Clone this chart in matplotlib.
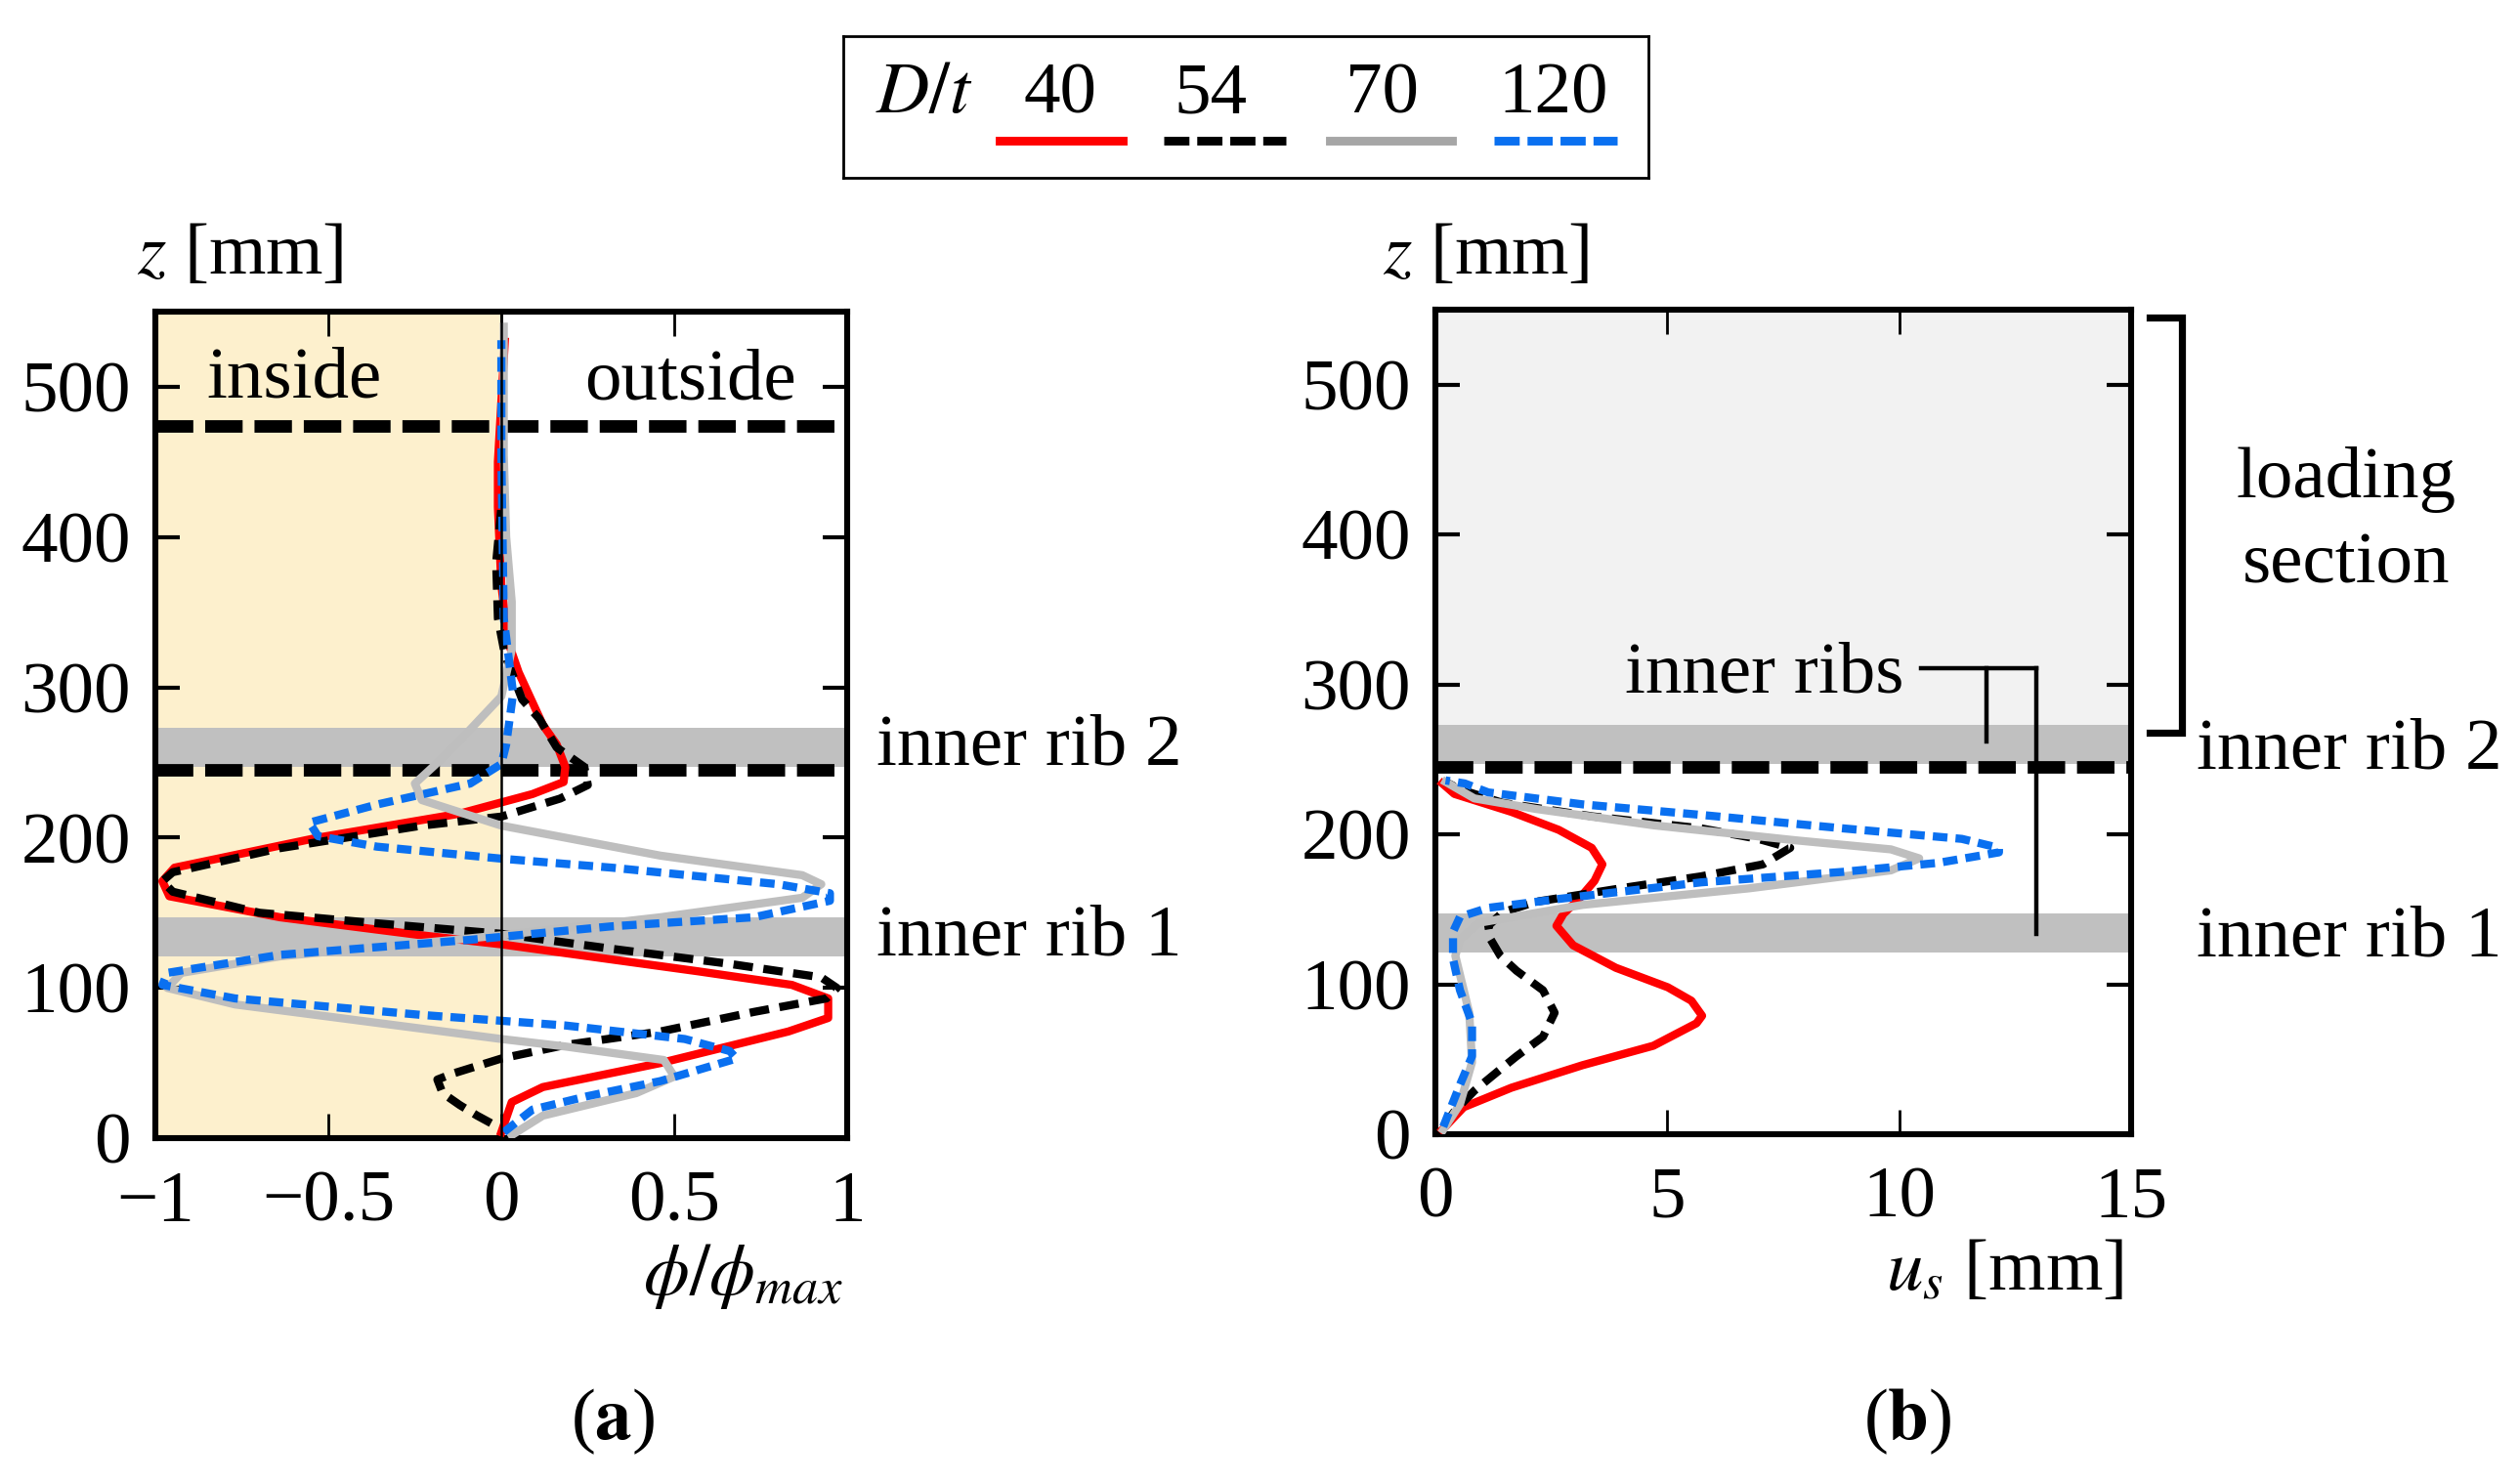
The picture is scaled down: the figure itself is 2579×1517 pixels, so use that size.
import matplotlib
matplotlib.use("Agg")
import matplotlib.pyplot as plt
from matplotlib.lines import Line2D

plt.rcParams.update({
    "font.family": "serif",
    "font.serif": ["Liberation Serif", "DejaVu Serif"],
    "mathtext.fontset": "stix",
    "font.size": 27,
    "axes.linewidth": 2.2,
})

# ---- data ----
series = ["40", "54", "70", "120"]

# panel (a): normalised rotation phi/phi_max vs height z [mm]
a40_phi = [0.0, 0.03, 0.12, 0.46, 0.83, 0.945, 0.945, 0.84, 0.57, 0.0, -0.23, -0.64, -0.96, -0.98,
           -0.945, -0.53, -0.12, 0.09, 0.18, 0.185, 0.16, 0.12, 0.05, 0.02, 0.0, -0.01, -0.01, 0.0, 0.01]
a40_z = [4, 24, 34, 50, 71, 80, 93, 102, 111, 129, 135, 147, 161, 171,
         180, 200, 216, 229, 237, 247, 262, 275, 310, 330, 368, 420, 450, 490, 530]
a54_phi = [-0.03, -0.07, -0.12, -0.17, -0.185, -0.14, 0.0, 0.185, 0.46, 0.73, 0.94, 0.97, 0.925, 0.66,
           0.32, 0.0, -0.36, -0.70, -0.95, -0.98, -0.95, -0.64, -0.23, 0.0, 0.17, 0.25, 0.24, 0.16,
           0.11, 0.06, 0.01, -0.01, -0.015, 0.0]
a54_z = [10, 15, 22, 30, 39, 43, 53, 62, 71, 84, 93, 100, 107, 116,
         126, 136, 143, 150, 164, 171, 177, 193, 208, 214, 226, 235, 247, 260,
         279, 292, 322, 346, 383, 420]
a70_phi = [0.03, 0.12, 0.39, 0.50, 0.47, 0.185, 0.0, -0.77, -0.966, -0.925, -0.64, 0.0, 0.46, 0.87,
           0.925, 0.87, 0.46, 0.0, -0.23, -0.25, -0.17, -0.09, 0.0, 0.03, 0.03, 0.014, 0.007, 0.007]
a70_z = [2, 15, 30, 41, 52, 61, 66, 89, 100, 110, 121, 135, 147, 160,
         169, 175, 188, 208, 225, 236, 253, 272, 294, 325, 357, 400, 455, 540]
a120_phi = [0.007, 0.09, 0.25, 0.46, 0.68, 0.66, 0.53, 0.185, -0.23, -0.77, -0.98, -0.966, -0.64, -0.09,
            0.32, 0.73, 0.95, 0.95, 0.80, 0.32, 0.0, -0.36, -0.53, -0.555, -0.36, -0.09, 0.0, 0.014,
            0.034, 0.007, 0.0, 0.0]
a120_z = [4, 19, 28, 38, 53, 58, 66, 75, 82, 93, 102, 110, 122, 132,
          141, 147, 158, 163, 169, 180, 186, 194, 201, 210, 222, 236, 249, 262,
          296, 346, 455, 531]

# panel (b): slip u_s [mm] vs height z [mm]
b40_us = [0.15, 0.61, 1.64, 3.17, 4.7, 5.63, 5.75, 5.52, 5.01, 3.89, 2.97, 2.61, 2.76, 3.07,
          3.43, 3.6, 3.37, 2.66, 1.64, 0.82, 0.41, 0.15]
b40_z = [3, 18, 31, 46, 59, 74, 79, 89, 98, 111, 126, 139, 147, 156,
         169, 180, 191, 203, 215, 223, 227, 234]
b54_us = [0.17, 0.43, 0.84, 1.35, 1.75, 2.32, 2.57, 2.32, 1.75, 1.40, 1.19, 1.14, 1.45, 2.16,
          4.2, 5.73, 7.06, 7.65, 6.96, 5.73, 3.39, 1.45, 0.53, 0.22]
b54_z = [5, 16, 29, 42, 52, 65, 81, 96, 109, 119, 130, 139, 148, 155,
         165, 172, 180, 191, 197, 204, 212, 221, 230, 235]
b70_us = [0.17, 0.53, 0.79, 0.73, 0.58, 0.43, 0.53, 0.94, 3.18, 6.76, 9.82, 10.43, 9.82, 7.78,
          4.72, 2.16, 0.84, 0.22]
b70_z = [3, 20, 48, 81, 100, 119, 130, 141, 153, 164, 176, 184, 190, 196,
         206, 217, 224, 235]
b120_us = [0.17, 0.53, 0.79, 0.79, 0.53, 0.38, 0.38, 0.53, 1.14, 2.68, 5.73, 8.79, 10.84, 12.15,
           12.15, 11.35, 8.79, 5.73, 3.18, 1.14, 0.63, 0.22]
b120_z = [5, 33, 52, 74, 96, 117, 135, 145, 151, 157, 168, 175, 181, 188,
          191, 197, 204, 213, 220, 228, 234, 236]

rib1 = (121, 147)
rib2 = (247, 273)
dash_a = [245, 474]
dash_b = [245]
loading = (273, 550)

a_xticks = [-1, -0.5, 0, 0.5, 1]
a_xticklabels = ["\u22121", "\u22120.5", "0", "0.5", "1"]
b_xticks = [0, 5, 10, 15]
z_ticks = [0, 100, 200, 300, 400, 500]

# ---- styles ----
C_RED = "#ff0000"; C_BLUE = "#0a70f0"; C_GRAY = "#bebebe"; C_BAND = "#c0c0c0"
C_IN = "#fdf0cd"; C_LOAD = "#f2f2f2"
plot_style = {
    "40": dict(color=C_RED, ls="-"),
    "54": dict(color="black", ls=(0, (2.4, 1.3))),
    "70": dict(color=C_GRAY, ls="-"),
    "120": dict(color=C_BLUE, ls=(0, (1.8, 1.0))),
}
leg_style = {
    "40": dict(color=C_RED, ls="-"),
    "54": dict(color="black", ls=(0, (2.9, 0.9))),
    "70": dict(color="#a6a6a6", ls="-"),
    "120": dict(color=C_BLUE, ls=(0, (2.9, 0.9))),
}
LW = 3.0

fig = plt.figure(figsize=(12.895, 7.585), dpi=200)
ax_a = fig.add_axes([0.0617, 0.232, 0.2745, 0.5577])
ax_b = fig.add_axes([0.5696, 0.2347, 0.2761, 0.5563])


def style_axes(ax):
    ax.set_ylim(0, 550)
    ax.set_yticks(z_ticks)
    ax.tick_params(direction="in", top=True, right=True)
    ax.tick_params(axis="y", length=9, width=1.5, pad=9)
    ax.tick_params(axis="x", length=9, width=1.0, pad=12)


# ---- panel (a) ----
ax_a.axvspan(-1, 0, color=C_IN, lw=0, zorder=0)
for lo, hi in (rib1, rib2):
    ax_a.axhspan(lo, hi, color=C_BAND, lw=0, zorder=1)
for z in dash_a:
    ax_a.axhline(z, color="black", lw=4.6, ls=(0, (3.0, 0.95)), zorder=2)
for key, x, z in (("40", a40_phi, a40_z), ("54", a54_phi, a54_z),
                  ("70", a70_phi, a70_z), ("120", a120_phi, a120_z)):
    ax_a.plot(x, z, lw=LW, zorder=3, **plot_style[key])
ax_a.axvline(0, color="black", lw=0.9, zorder=4)
ax_a.set_xlim(-1, 1)
ax_a.set_xticks(a_xticks)
ax_a.set_xticklabels(a_xticklabels)
style_axes(ax_a)
ax_a.text(-0.853, 493, "inside", ha="left", va="baseline")
ax_a.text(0.853, 492, "outside", ha="right", va="baseline")
ty = ax_a.get_yaxis_transform()
ax_a.text(1.042, 249, "inner rib 2", transform=ty, ha="left", va="baseline")
ax_a.text(1.042, 122, "inner rib 1", transform=ty, ha="left", va="baseline")
ax_a.text(-0.027, 1.046, r"$z$ [mm]", transform=ax_a.transAxes, ha="left", va="baseline")
ax_a.text(0.993, -0.189, r"$\phi/\phi_{max}$", transform=ax_a.transAxes, ha="right", va="baseline")

# ---- panel (b) ----
ax_b.axhspan(*loading, color=C_LOAD, lw=0, zorder=0)
for lo, hi in (rib1, rib2):
    ax_b.axhspan(lo, hi, color=C_BAND, lw=0, zorder=1)
for z in dash_b:
    ax_b.axhline(z, color="black", lw=4.6, ls=(0, (3.0, 0.95)), zorder=2)
for key, x, z in (("40", b40_us, b40_z), ("54", b54_us, b54_z),
                  ("70", b70_us, b70_z), ("120", b120_us, b120_z)):
    ax_b.plot(x, z, lw=LW, zorder=3, **plot_style[key])
ax_b.set_xlim(0, 15)
ax_b.set_xticks(b_xticks)
style_axes(ax_b)
# leader lines for the inner ribs
ax_b.plot([10.46, 12.95], [311, 311], color="black", lw=1.6, zorder=4)
ax_b.plot([11.88, 11.88], [311, 262], color="black", lw=1.6, zorder=4)
ax_b.plot([12.95, 12.95], [311, 133.5], color="black", lw=1.6, zorder=4)
ax_b.text(10.1, 295, "inner ribs", ha="right", va="baseline", zorder=5)
# loading-section bracket
ax_b.plot([15.4, 16.1, 16.1, 15.4], [545, 545, 268, 268], color="black", lw=2.6,
          clip_on=False, solid_joinstyle="miter")
ax_b.text(19.64, 408, "loading\nsection", ha="center", va="center", linespacing=1.4)
ty = ax_b.get_yaxis_transform()
ax_b.text(1.094, 244, "inner rib 2", transform=ty, ha="left", va="baseline")
ax_b.text(1.094, 119, "inner rib 1", transform=ty, ha="left", va="baseline")
ax_b.text(-0.076, 1.044, r"$z$ [mm]", transform=ax_b.transAxes, ha="left", va="baseline")
ax_b.text(0.989, -0.189, r"$u_s$ [mm]", transform=ax_b.transAxes, ha="right", va="baseline")

# ---- legend (labels above the line samples) ----
leg = fig.add_axes([0.3348, 0.8802, 0.3193, 0.0956])
leg.set_xlim(0, 1); leg.set_ylim(0, 1)
leg.set_xticks([]); leg.set_yticks([])
for s in leg.spines.values():
    s.set_linewidth(1.0)
leg.text(0.10, 0.46, r"$D/t$", ha="center", va="baseline")
text_x = [0.269, 0.456, 0.669, 0.882]
line_x = [(0.194, 0.347), (0.398, 0.550), (0.604, 0.756), (0.808, 0.961)]
for key, tx, (x0, x1) in zip(series, text_x, line_x):
    leg.text(tx, 0.46, key, ha="center", va="baseline")
    leg.add_line(Line2D([x0, x1], [0.26, 0.26], lw=3.2, **leg_style[key]))

fig.text(627 / 2579, 1 - 1455 / 1517, r"($\mathbf{a}$)", ha="center", va="center")
fig.text(1952 / 2579, 1 - 1455 / 1517, r"($\mathbf{b}$)", ha="center", va="center")

fig.savefig("out.png", dpi=200)
